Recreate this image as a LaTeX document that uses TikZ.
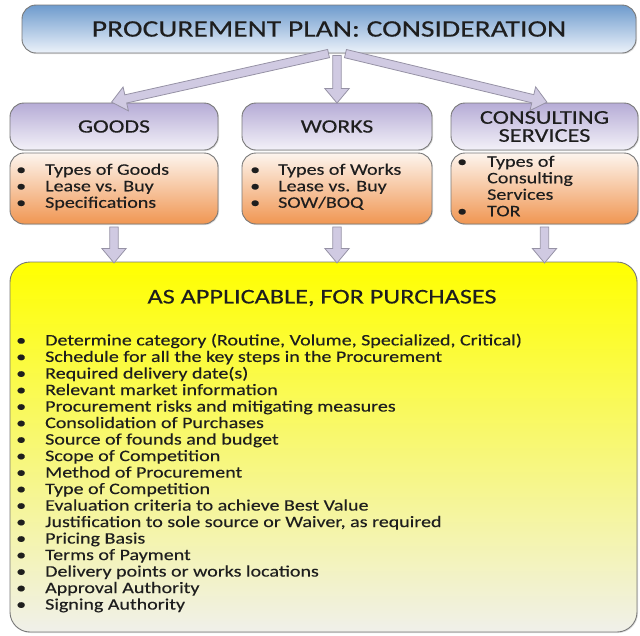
\documentclass[tikz,border=0pt]{standalone}
\usepackage{fontspec}
\setmainfont[FakeStretch=1.25,FakeBold=0.25]{Carlito}
\usetikzlibrary{shapes.arrows,calc,shadows}
\definecolor{txt}{RGB}{30,30,30}
\definecolor{bordergray}{RGB}{120,120,120}
\definecolor{bluetop}{RGB}{110,155,205}
\definecolor{bluebot}{RGB}{236,242,250}
\definecolor{purtop}{RGB}{182,172,214}
\definecolor{purbot}{RGB}{243,241,248}
\definecolor{ortop}{RGB}{253,245,238}
\definecolor{orbot}{RGB}{240,150,82}
\definecolor{yeltop}{RGB}{255,255,0}
\definecolor{yelmid}{RGB}{248,246,120}
\definecolor{yelbot}{RGB}{240,240,234}
\definecolor{lav}{RGB}{208,202,226}
\definecolor{arrgray}{RGB}{150,146,165}
\newcommand\fatarrow[2]{%
  \path let \p1=($(#2)-(#1)$), \n1={veclen(\x1,\y1)} in
    (#1) -- (#2) node[fatarr, minimum height=\n1, pos=0.5, sloped, allow upside down] {};}
\tikzset{
  box/.style={draw=bordergray, line width=0.9pt, rounded corners=14pt, text=txt,
    drop shadow={shadow xshift=1pt, shadow yshift=-1pt, opacity=0.25}},
  bluebox/.style={box, top color=bluetop, bottom color=bluebot},
  purbox/.style={box, top color=purtop, bottom color=purbot},
  orbox/.style={box, top color=ortop, bottom color=orbot},
  yelbox/.style={box, rounded corners=20pt, top color=yeltop, middle color=yelmid, bottom color=yelbot},
  fatarr/.style={single arrow, draw=arrgray, fill=lav, line width=0.8pt,
    inner xsep=0pt, inner ysep=3.8pt, single arrow head extend=8pt,
    single arrow tip angle=80, minimum width=24pt},
  listtxt/.style={inner sep=0pt, anchor=north west, text=txt, align=left,
    font=\fontsize{16}{16.5}\selectfont},
}
\begin{document}
\begin{tikzpicture}[x=1pt,y=-1pt]
\useasboundingbox (0,0) rectangle (640,635);
% boxes
\node[bluebox, minimum width=614pt, minimum height=48pt, font=\fontsize{23.7}{28}\selectfont] (top) at (329,29) {PROCUREMENT PLAN: CONSIDERATION};
\node[purbox, minimum width=208pt, minimum height=47pt, font=\fontsize{19}{22}\selectfont] (goods) at (114,126.5) {GOODS};
\node[purbox, minimum width=190pt, minimum height=47pt, font=\fontsize{19}{22}\selectfont] (works) at (337,126.5) {WORKS};
\node[purbox, minimum width=187pt, minimum height=47pt, font=\fontsize{19.5}{18}\selectfont, align=center] (cons) at (544.5,126.5) {CONSULTING\\SERVICES};
\node[orbox, minimum width=208pt, minimum height=71pt] (goodsl) at (114,188.5) {};
\node[orbox, minimum width=190pt, minimum height=71pt] (worksl) at (337,188.5) {};
\node[orbox, minimum width=187pt, minimum height=71pt] (consl) at (544.5,188.5) {};
\node[yelbox, minimum width=627pt, minimum height=370pt] (purch) at (323.5,447) {};
% texts
\node[text=txt, font=\fontsize{21}{24}\selectfont] (ptitle) at (322,298) {AS APPLICABLE, FOR PURCHASES};
\node[listtxt] (gl) at (16,163) {\begin{tabular}{@{}p{29pt}@{}l@{}}
\textbullet & Types of Goods\\
\textbullet & Lease vs. Buy\\
\textbullet & Specifications
\end{tabular}};
\node[listtxt] (wl) at (250,163) {\begin{tabular}{@{}p{28pt}@{}l@{}}
\textbullet & Types of Works\\
\textbullet & Lease vs. Buy\\
\textbullet & SOW/BOQ
\end{tabular}};
\node[listtxt] (cl) at (457,155) {\begin{tabular}{@{}p{30pt}@{}l@{}}
\textbullet & Types of\\
 & Consulting\\
 & Services\\
\textbullet & TOR
\end{tabular}};
\node[listtxt] (pl) at (16,333.5) {\begin{tabular}{@{}p{29pt}@{}l@{}}
\textbullet & Determine category (Routine, Volume, Specialized, Critical)\\
\textbullet & Schedule for all the key steps in the Procurement\\
\textbullet & Required delivery date(s)\\
\textbullet & Relevant market information\\
\textbullet & Procurement risks and mitigating measures\\
\textbullet & Consolidation of Purchases\\
\textbullet & Source of founds and budget\\
\textbullet & Scope of Competition\\
\textbullet & Method of Procurement\\
\textbullet & Type of Competition\\
\textbullet & Evaluation criteria to achieve Best Value\\
\textbullet & Justification to sole source or Waiver, as required\\
\textbullet & Pricing Basis\\
\textbullet & Terms of Payment\\
\textbullet & Delivery points or works locations\\
\textbullet & Approval Authority\\
\textbullet & Signing Authority
\end{tabular}};
% arrows
\coordinate (tA) at (331,53);
\coordinate (tB) at (337,53);
\coordinate (tC) at (343,53);
\coordinate (gA) at ($(goods.north)+(0,-1)$);
\coordinate (wA) at ($(works.north)+(0,-2)$);
\coordinate (cA) at ($(cons.north)+(0,-1)$);
\fatarrow{tA}{gA}
\fatarrow{tB}{wA}
\fatarrow{tC}{cA}
\coordinate (gB) at ($(goodsl.south)+(0,36)$);
\coordinate (wB) at ($(worksl.south)+(0,36)$);
\coordinate (cB) at ($(consl.south)+(0,36)$);
\fatarrow{goodsl.south}{gB}
\fatarrow{worksl.south}{wB}
\fatarrow{consl.south}{cB}
\end{tikzpicture}
\end{document}
